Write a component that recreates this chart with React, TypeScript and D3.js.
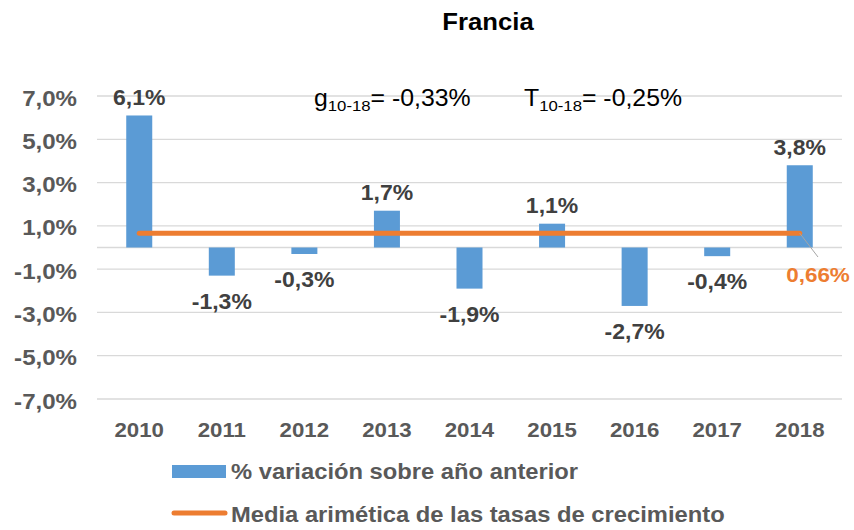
import React from "react";
import * as d3 from "d3";

const years = ["2010", "2011", "2012", "2013", "2014", "2015", "2016", "2017", "2018"];
const variation = [6.1, -1.3, -0.3, 1.7, -1.9, 1.1, -2.7, -0.4, 3.8];
const labels = ["6,1%", "-1,3%", "-0,3%", "1,7%", "-1,9%", "1,1%", "-2,7%", "-0,4%", "3,8%"];
const meanRate = 0.66;
const meanLabel = "0,66%";
const yTicks = [7, 5, 3, 1, -1, -3, -5, -7];
const yTickLabels = ["7,0%", "5,0%", "3,0%", "1,0%", "-1,0%", "-3,0%", "-5,0%", "-7,0%"];

const W = 854, H = 530;
const FONT = "'Liberation Sans', Arial, sans-serif";
const GRAY = "#595959";
const DARK = "#404040";
const BLUE = "#5b9bd5";
const ORANGE = "#ed7d31";
const SX = 1.07;

type TP = {
  x: number; y: number; size: number; anchor?: "start" | "middle" | "end";
  bold?: boolean; fill?: string; sx?: number; children?: React.ReactNode;
};
function T({ x, y, size, anchor = "start", bold = true, fill = GRAY, sx = SX, children }: TP) {
  return (
    <text transform={`translate(${x},${y}) scale(${sx},1)`} textAnchor={anchor}
      fontWeight={bold ? "bold" : "normal"} fontSize={size} fill={fill}>{children}</text>
  );
}

export default function App() {
  const x = d3.scaleBand<string>().domain(years).range([98, 841]).paddingInner(0.685).paddingOuter(0.342);
  const y = d3.scaleLinear().domain([-7, 7]).range([399, 96]);
  const bw = x.bandwidth();
  const cx = (d: string) => (x(d) as number) + bw / 2;
  const first = cx(years[0]);
  const last = cx(years[years.length - 1]);
  const ym = y(meanRate);

  return (
    <svg width={W} height={H} style={{ position: "absolute", left: 0, top: 0 }} fontFamily={FONT}>
      <rect width={W} height={H} fill="#fff" />
      <T x={488} y={30} size={24} anchor="middle" fill="#000">Francia</T>

      {yTicks.map((t, i) => (
        <g key={t}>
          <line x1={97} x2={842} y1={y(t)} y2={y(t)} stroke="#d9d9d9" strokeWidth={1.3} />
          <T x={77} y={y(t) + 9.5} size={22.5} anchor="end">{yTickLabels[i]}</T>
        </g>
      ))}
      <line x1={97} x2={842} y1={y(0)} y2={y(0)} stroke="#d9d9d9" strokeWidth={1.3} />

      {years.map((yr, i) => {
        const v = variation[i];
        const top = Math.min(y(v), y(0));
        const h = Math.abs(y(v) - y(0));
        return (
          <g key={yr}>
            <rect x={x(yr)} y={top} width={bw} height={h} fill={BLUE} />
            <T x={cx(yr)} y={v >= 0 ? y(v) - 10.5 : y(v) + 33} size={21.5} anchor="middle" fill={DARK}>{labels[i]}</T>
            <T x={cx(yr)} y={437} size={20.8} anchor="middle">{yr}</T>
          </g>
        );
      })}

      <line x1={first} x2={last} y1={ym} y2={ym} stroke={ORANGE} strokeWidth={5} strokeLinecap="round" />
      <line x1={last} y1={ym} x2={818} y2={257} stroke="#a6a6a6" strokeWidth={1} />
      <T x={818} y={281.5} size={21} anchor="middle" fill={ORANGE}>{meanLabel}</T>

      <text transform="translate(314,106) scale(1.08,1)" fontSize={23} fill="#000">g<tspan fontSize={15.5} dy={5}>10-18</tspan><tspan dy={-5}>= -0,33%</tspan></text>
      <text transform="translate(524,106) scale(1.08,1)" fontSize={23} fill="#000">T<tspan fontSize={15.5} dy={5}>10-18</tspan><tspan dy={-5}>= -0,25%</tspan></text>

      <rect x={172} y={465} width={54} height={13} fill={BLUE} />
      <T x={231} y={479} size={22.2}>% variación sobre año anterior</T>
      <line x1={174} x2={225} y1={513} y2={513} stroke={ORANGE} strokeWidth={5} strokeLinecap="round" />
      <T x={231} y={521.5} size={22.2}>Media arimética de las tasas de crecimiento</T>
    </svg>
  );
}
